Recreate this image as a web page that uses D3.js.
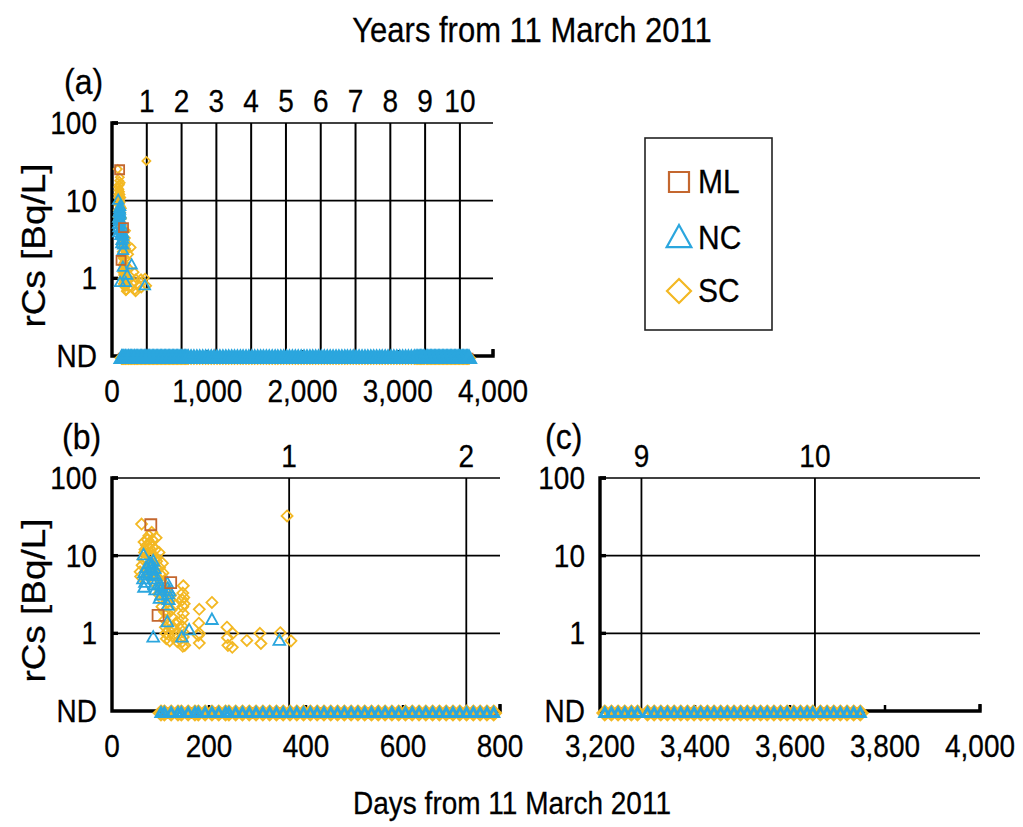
<!DOCTYPE html>
<html>
<head>
<meta charset="utf-8">
<script src="https://cdn.jsdelivr.net/npm/d3@7/dist/d3.min.js"></script>
<style>
  body { margin: 0; background: #fff; }
  text { font-family: "Liberation Sans", Arial, sans-serif; fill: #000; stroke: #000; stroke-width: 0.25px; }
</style>
</head>
<body>
<svg id="chart" width="1023" height="827"></svg>
<script>
// detected values [day, Bq/L]
const scDetected = [
  [58, 6.2], [59, 5.4], [61, 25.5], [62, 7.5], [64, 9], [66, 15], [67, 11], [68, 12], [70, 9],
  [71, 13.5], [72, 6.5], [73, 16], [74, 5.5], [75, 10.5], [76, 18], [77, 12.5], [78, 14], [79, 11],
  [80, 8], [81, 9.2], [82, 20], [83, 16], [84, 13], [85, 10], [86, 7.5], [87, 6], [88, 4.5], [89, 12],
  [90, 9.5], [91, 17], [92, 8.5], [93, 6.8], [94, 5.2], [95, 4], [96, 3.2], [97, 11], [98, 7],
  [99, 5.8], [100, 4.8], [101, 3.6], [102, 2.8], [103, 2.2], [104, 8], [105, 6], [106, 4.2], [107, 3],
  [108, 1.9], [109, 1.5], [110, 1.2], [111, 1.0], [112, 0.85], [113, 3.5], [114, 2.5], [115, 1.8],
  [116, 1.3], [117, 1.1], [118, 0.95], [119, 0.8], [120, 2.7], [121, 3.1], [122, 2.0], [124, 1.6],
  [126, 1.2], [128, 0.9], [130, 2.3], [132, 1.0], [134, 1.4], [135, 0.78],
  [147, 4.1], [146, 3.3], [145, 2.7], [146, 2.2], [147, 1.8], [145, 1.5], [144, 1.25], [146, 1.05],
  [147, 0.9], [145, 0.78], [146, 0.68], [150, 0.7], [148, 2.9], [149, 2.4],
  [180, 2.04], [179, 1.35], [180, 1.0], [178, 0.94], [180, 0.75],
  [206, 2.5], [237, 1.2], [238, 0.88], [239, 0.7], [249, 1.0], [248, 0.66],
  [278, 0.81], [305, 1.0], [307, 0.74], [347, 1.02], [361, 32.5], [369, 0.8]
];
const ncDetected = [
  [65, 10.2], [66, 6], [64, 5], [66, 3.9], [68, 4.5], [70, 7], [72, 5.6],
  [78, 8], [80, 7.2], [82, 6.5], [84, 5.8], [85, 8.5], [86, 5], [87, 4.2], [88, 6.8], [89, 3.6],
  [90, 5.5], [83, 7.6], [85, 0.89],
  [99, 4.2], [100, 3.6], [101, 3.1], [98, 2.8], [102, 3.9],
  [114, 4.4], [115, 3.8], [116, 3.2], [117, 2.7], [115, 2.3], [118, 3.5], [114, 1.4],
  [144, 0.89], [159, 1.1], [206, 1.5], [345, 0.81]
];
const mlDetected = [[80, 25], [95, 1.7], [121, 4.5]];

// survey days with no detection
const ndDays = [
  101, 108, 122, 136, 143, 157, 171, 178, 192, 206, 220, 234, 241, 255, 269, 283, 297, 311,
  325, 339, 353, 367, 381, 395, 409, 423, 437, 451, 465, 479, 493, 507, 521, 535, 549, 563,
  577, 591, 605, 619, 633, 647, 661, 675, 689, 703, 717, 731, 745, 759, 773, 787, 801,
  830, 860, 891, 921, 952, 983, 1011, 1042, 1072, 1103, 1133, 1164, 1195, 1225, 1256, 1286,
  1317, 1348, 1376, 1407, 1437, 1468, 1498, 1529, 1560, 1590, 1621, 1651, 1682, 1713, 1741,
  1772, 1802, 1833, 1863, 1894, 1925, 1955, 1986, 2016, 2047, 2078, 2107, 2138, 2168, 2199,
  2229, 2260, 2291, 2321, 2352, 2382, 2413, 2444, 2472, 2503, 2533, 2564, 2594, 2625, 2656,
  2686, 2717, 2747, 2778, 2809, 2837, 2868, 2898, 2929, 2959, 2990, 3021, 3051, 3082, 3112,
  3143, 3174, 3193,
  3210, 3224, 3238, 3252, 3266, 3279, 3300, 3314, 3328, 3342, 3356, 3370, 3384, 3398, 3412,
  3426, 3440, 3454, 3468, 3482, 3496, 3510, 3524, 3538, 3552, 3566, 3580, 3594, 3608, 3622,
  3636, 3648, 3664, 3678, 3692, 3706, 3720, 3734, 3748
];
const mlNdDays = [
  115, 164, 213, 290, 346, 430, 528, 612, 696, 780, 950, 1180, 1420, 1650, 1890, 2120,
  2360, 2590, 2830, 3060, 3245, 3335, 3420, 3510, 3590, 3680, 3740
];

const yTicks = [100, 10, 1];
const yearTicksA = [1, 2, 3, 4, 5, 6, 7, 8, 9, 10];
const yearTicksB = [1, 2];
const yearTicksC = [9, 10];
const dayTicksA = [0, 1000, 2000, 3000, 4000];
const dayTicksB = [0, 200, 400, 600, 800];
const dayTicksC = [3200, 3400, 3600, 3800, 4000];

const ND = 0.1;
const colors = { ML: '#c4672f', NC: '#2ba6de', SC: '#f3b823' };
const STRETCH = 1.12; // the figure is a bit taller than wide

const svg = d3.select('#chart');

function diamond(r) {
  return `M0,${-r}L${r},0L0,${r}L${-r},0Z`;
}
function triangle(r) {
  return `M0,${-r}L${r * 0.95},${r * 0.7}L${-r * 0.95},${r * 0.7}Z`;
}
function square(r) {
  return `M${-r},${-r}H${r}V${r}H${-r}Z`;
}

// text placed with a small vertical stretch
function label(parent, x, y, str, size, anchor) {
  return parent.append('text')
    .attr('transform', `translate(${x},${y}) scale(1,${STRETCH})`)
    .attr('text-anchor', anchor || 'start')
    .attr('font-size', size)
    .text(str);
}

function drawPanel(p) {
  const g = svg.append('g');
  const sx = d3.scaleLinear().domain(p.domain).range([p.left, p.right]);
  const sy = d3.scaleLog().domain([ND, 100]).range([p.bottom, p.top]);
  const inDomain = d => d >= p.domain[0] && d <= p.domain[1];

  // horizontal grid
  g.selectAll('.hgrid').data(yTicks).enter().append('line')
    .attr('x1', p.left).attr('x2', p.right)
    .attr('y1', d => sy(d)).attr('y2', d => sy(d))
    .attr('stroke', '#000').attr('stroke-width', 1.6);

  // year grid + labels
  const yrs = p.years.filter(y => inDomain(y * 365.25));
  g.selectAll('.vgrid').data(yrs).enter().append('line')
    .attr('x1', d => sx(d * 365.25)).attr('x2', d => sx(d * 365.25))
    .attr('y1', p.top).attr('y2', p.bottom)
    .attr('stroke', '#000').attr('stroke-width', p.gridW);
  yrs.forEach(d => label(g, sx(d * 365.25), p.top - 11, d, 28, 'middle'));

  // axes
  g.append('path')
    .attr('d', `M${p.left + 6},${p.top}H${p.left}V${p.bottom}H${p.right}V${p.bottom - 7}`)
    .attr('fill', 'none').attr('stroke', '#000').attr('stroke-width', 3.4);
  g.selectAll('.ytk').data(yTicks).enter().append('line')
    .attr('x1', p.left).attr('x2', p.left + 6)
    .attr('y1', d => sy(d)).attr('y2', d => sy(d))
    .attr('stroke', '#000').attr('stroke-width', 3.4);
  g.selectAll('.xtk').data(p.dayTicks.slice(1)).enter().append('line')
    .attr('x1', d => sx(d)).attr('x2', d => sx(d))
    .attr('y1', p.bottom).attr('y2', p.bottom - 6)
    .attr('stroke', '#000').attr('stroke-width', 2.5);

  // tick labels
  yTicks.forEach(d => label(g, p.left - 15, sy(d) + 11, d, 28, 'end'));
  label(g, p.left - 15, p.bottom + 11, 'ND', 28, 'end');
  p.dayTicks.forEach(d => label(g, sx(d), p.bottom + 46, d3.format(',')(d), 28, 'middle'));

  // markers
  const ms = p.marker;
  const layer = g.append('g').attr('fill', 'none');
  function plot(days, vals, color, path, sw, dy) {
    layer.selectAll(null).data(days.map((d, i) => [d, vals[i]]).filter(d => inDomain(d[0])))
      .enter().append('path')
      .attr('d', path)
      .attr('transform', d => `translate(${sx(d[0])},${sy(d[1]) + (dy || 0)})`)
      .attr('stroke', color).attr('stroke-width', sw);
  }
  const ndVals = ndDays.map(() => ND);
  const mlNdVals = mlNdDays.map(() => ND);
  plot(mlNdDays, mlNdVals, colors.ML, square(ms.ndSq), 2.4, 2);
  plot(ndDays, ndVals, colors.SC, diamond(ms.ndDia), 2.6, 2);
  plot(ndDays, ndVals, colors.NC, triangle(ms.ndTri), ms.ndW, 2);
  plot(scDetected.map(d => d[0]), scDetected.map(d => d[1]), colors.SC, diamond(ms.dia), 1.8);
  plot(ncDetected.map(d => d[0]), ncDetected.map(d => d[1]), colors.NC, triangle(ms.tri), 1.8);
  plot(mlDetected.map(d => d[0]), mlDetected.map(d => d[1]), colors.ML, square(ms.sq), 1.8);

  // panel label
  label(g, p.labelX, p.labelY, p.label, 32);
  if (p.yTitle) {
    g.append('text')
      .attr('transform', `translate(${p.left - 67},${(p.top + p.bottom) / 2 + 6}) rotate(-90) scale(${STRETCH},1)`)
      .attr('text-anchor', 'middle').attr('font-size', 33)
      .text('rCs [Bq/L]');
  }
}

drawPanel({ domain: [0, 4000], left: 112, right: 493, top: 123, bottom: 356,
  years: yearTicksA, dayTicks: dayTicksA, gridW: 2, label: '(a)', labelX: 64, labelY: 94,
  yTitle: true,
  marker: { dia: 4, tri: 5.5, sq: 4.5, ndDia: 5.5, ndTri: 5.5, ndSq: 4, ndW: 4.2 } });
drawPanel({ domain: [0, 800], left: 112, right: 500, top: 478, bottom: 711,
  years: yearTicksB, dayTicks: dayTicksB, gridW: 1.8, label: '(b)', labelX: 62, labelY: 449,
  yTitle: true,
  marker: { dia: 5.5, tri: 6.2, sq: 5.5, ndDia: 7, ndTri: 5, ndSq: 4.5, ndW: 3 } });
drawPanel({ domain: [3200, 4000], left: 600, right: 980, top: 478, bottom: 711,
  years: yearTicksC, dayTicks: dayTicksC, gridW: 1.8, label: '(c)', labelX: 545, labelY: 449,
  yTitle: false,
  marker: { dia: 5.5, tri: 6.2, sq: 5.5, ndDia: 7, ndTri: 5, ndSq: 4.5, ndW: 3 } });

// titles
label(svg, 532, 42, 'Years from 11 March 2011', 31, 'middle');
label(svg, 512, 814, 'Days from 11 March 2011', 28, 'middle');

// legend
const legend = svg.append('g');
legend.append('rect').attr('x', 645).attr('y', 138).attr('width', 127).attr('height', 192)
  .attr('fill', '#fff').attr('stroke', '#222').attr('stroke-width', 1.6);
const legendItems = [
  { name: 'ML', path: square(10), y: 182 },
  { name: 'NC', path: triangle(13), y: 238 },
  { name: 'SC', path: diamond(12), y: 291 }
];
legendItems.forEach(it => {
  legend.append('path').attr('d', it.path)
    .attr('transform', `translate(679,${it.y})`)
    .attr('fill', 'none').attr('stroke', colors[it.name]).attr('stroke-width', 2.2);
  label(legend, 698, it.y + 11, it.name, 30);
});
</script>
</body>
</html>
